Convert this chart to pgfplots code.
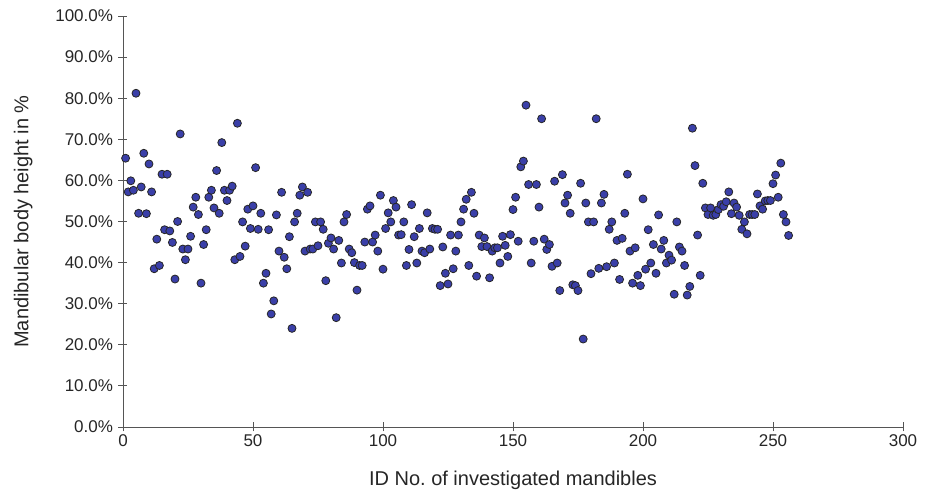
\documentclass[border=0pt]{standalone}
\usepackage{pgfplots}
\pgfplotsset{compat=1.18}
\usepackage{fontspec}
\setmainfont{Liberation Sans}
\definecolor{markblue}{HTML}{3A3FA8}
\definecolor{axgray}{HTML}{555555}

\pgfplotstableread{
id pct
1 65.4
2 57.2
3 59.9
4 57.6
5 81.2
6 52.0
7 58.4
8 66.6
9 51.9
10 64.0
11 57.2
12 38.5
13 45.7
14 39.3
15 61.5
16 48.0
17 61.5
18 47.7
19 44.9
20 36.0
21 50.0
22 71.3
23 43.3
24 40.7
25 43.3
26 46.4
27 53.5
28 55.9
29 51.7
30 35.0
31 44.4
32 48.0
33 55.9
34 57.6
35 53.3
36 62.4
37 52.0
38 69.2
39 57.6
40 55.1
41 57.6
42 58.6
43 40.7
44 73.9
45 41.5
46 49.9
47 44.0
48 53.0
49 48.3
50 53.8
51 63.1
52 48.1
53 52.0
54 35.0
55 37.4
56 48.0
57 27.5
58 30.7
59 51.6
60 42.8
61 57.1
62 41.3
63 38.5
64 46.3
65 24.0
66 49.9
67 52.0
68 56.4
69 58.4
70 42.8
71 57.1
72 43.3
73 43.3
74 49.9
75 44.1
76 49.9
77 48.1
78 35.6
79 44.7
80 46.0
81 43.3
82 26.6
83 45.4
84 39.9
85 49.9
86 51.7
87 43.3
88 42.4
89 40.0
90 33.3
91 39.3
92 39.3
93 45.0
94 53.0
95 53.8
96 45.0
97 46.7
98 42.8
99 56.4
100 38.4
101 48.3
102 52.1
103 49.9
104 55.1
105 53.5
106 46.7
107 46.8
108 49.9
109 39.3
110 43.2
111 54.1
112 46.3
113 39.9
114 48.3
115 42.8
116 42.4
117 52.1
118 43.3
119 48.3
120 48.1
121 48.1
122 34.4
123 43.8
124 37.4
125 34.8
126 46.7
127 38.5
128 42.8
129 46.7
130 49.9
131 53.0
132 55.4
133 39.3
134 57.1
135 52.0
136 36.7
137 46.7
138 43.9
139 46.0
140 43.9
141 36.3
142 42.8
143 43.6
144 43.6
145 39.9
146 46.4
147 44.2
148 41.5
149 46.8
150 52.9
151 55.9
152 45.2
153 63.3
154 64.7
155 78.3
156 59.0
157 39.9
158 45.2
159 59.0
160 53.5
161 75.0
162 45.7
163 43.2
164 44.4
165 39.1
166 59.8
167 39.9
168 33.2
169 61.4
170 54.5
171 56.4
172 52.0
173 34.6
174 34.4
175 33.2
176 59.3
177 21.4
178 54.5
179 49.9
180 37.3
181 49.9
182 75.0
183 38.6
184 54.5
185 56.6
186 39.0
187 48.1
188 49.9
189 39.9
190 45.4
191 35.9
192 45.9
193 52.0
194 61.5
195 42.8
196 35.0
197 43.6
198 36.9
199 34.4
200 55.5
201 38.4
202 48.0
203 39.9
204 44.4
205 37.4
206 51.6
207 43.3
208 45.4
209 39.9
210 41.8
211 40.6
212 32.3
213 49.9
214 43.8
215 42.8
216 39.3
217 32.1
218 34.2
219 72.7
220 63.6
221 46.7
222 36.9
223 59.3
224 53.3
225 51.7
226 53.3
227 51.5
228 51.7
229 52.9
230 54.1
231 53.7
232 54.8
233 57.2
234 51.9
235 54.5
236 53.5
237 51.5
238 48.1
239 49.9
240 47.0
241 51.7
242 51.7
243 51.7
244 56.7
245 53.8
246 53.0
247 55.0
248 55.1
249 55.1
250 59.2
251 61.3
252 55.9
253 64.2
254 51.7
255 49.9
256 46.6
}\mandibles

\begin{document}
\begin{tikzpicture}
% frame of the whole picture, 935 x 492
\useasboundingbox (-123pt,-65pt) rectangle (812pt,427pt);
\begin{axis}[
    at={(0,0)}, anchor=origin,
    scale only axis,
    width=780pt, height=411pt,
    xmin=0, xmax=300,
    ymin=0, ymax=100,
    xtick={0,50,...,300},
    ytick={0,10,...,100},
    axis x line=bottom,
    axis y line=left,
    axis line style={-, axgray, line width=0.9pt},
    tick style={axgray, line width=0.9pt},
    tick align=center,
    major tick length=9pt,
    /pgf/number format/assume math mode=true,
    yticklabel={\pgfmathprintnumber[fixed,fixed zerofill,precision=1]{\tick}\%},
    ticklabel style={font=\fontsize{17}{20}\selectfont, text=black!85},
    yticklabel style={xshift=-2pt},
    xlabel={ID No.\ of investigated mandibles},
    ylabel={Mandibular body height in \%},
    label style={font=\fontsize{20}{24}\selectfont, text=black!85},
    xlabel style={at={(axis description cs:0.5,-0.129)}, anchor=center},
    ylabel style={at={(axis description cs:-0.128,0.5)}, anchor=center, rotate=0},
    clip=false,
]
\addplot[only marks, mark=*, mark size=4pt,
    mark options={fill=markblue, draw=black!85, line width=0.8pt}]
    table[x=id, y=pct] {\mandibles};
\end{axis}
\end{tikzpicture}
\end{document}
